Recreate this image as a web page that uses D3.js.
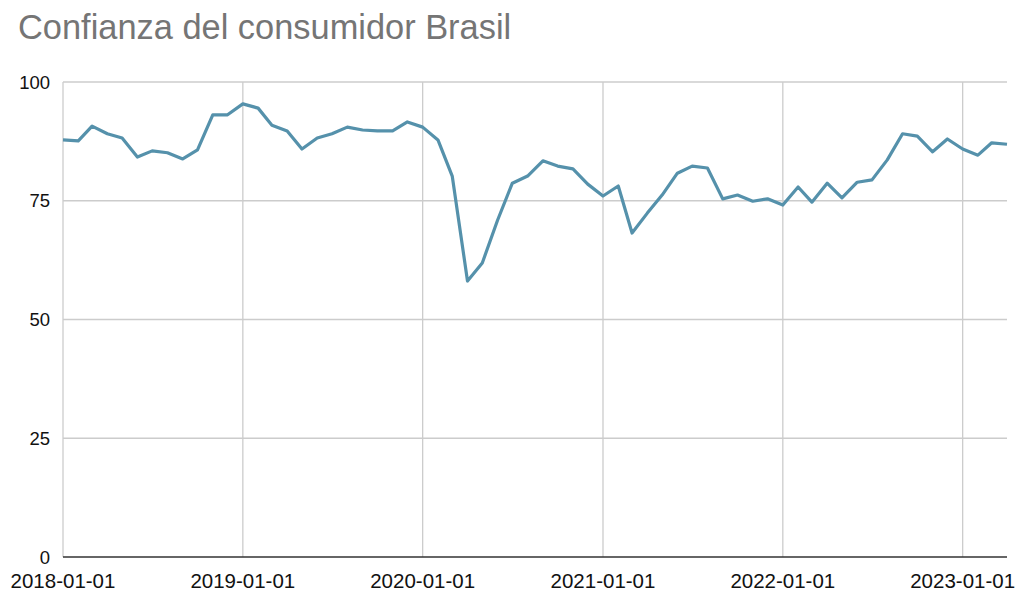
<!DOCTYPE html>
<html><head><meta charset="utf-8">
<script src="https://cdn.jsdelivr.net/npm/d3@7"></script>
<style>body{margin:0;background:#fff;}svg{display:block;}svg text{font-family:Arial,"Liberation Sans",Helvetica,sans-serif;}</style>
</head><body>
<svg id="chart" width="1018" height="592"></svg>
<script>
const title = "Confianza del consumidor Brasil";
const startMonth = "2018-01-01";
const values = [87.8,87.6,90.7,89.1,88.2,84.2,85.5,85.1,83.8,85.7,93.1,93.1,
  95.4,94.5,90.9,89.7,85.9,88.2,89.1,90.5,89.9,89.7,89.7,91.6,
  90.5,87.8,80.2,58.1,61.9,70.9,78.7,80.2,83.4,82.3,81.7,78.5,
  76.0,78.1,68.2,72.4,76.2,80.8,82.3,81.9,75.4,76.2,74.9,75.4,
  74.1,77.9,74.7,78.7,75.6,78.9,79.4,83.6,89.1,88.6,85.3,88.0,
  85.9,84.6,87.2,86.9];
const yTicks = [0,25,50,75,100];
const xTickLabels = ["2018-01-01","2019-01-01","2020-01-01","2021-01-01","2022-01-01","2023-01-01"];

const parse = d3.utcParse("%Y-%m-%d");
const start = parse(startMonth);
const data = values.map((v,i)=>({date:d3.utcMonth.offset(start,i), value:v}));

const svg = d3.select("#chart");
const m = {left:63, right:1007, top:82, bottom:557};
const x = d3.scaleUtc().domain([start, data[data.length-1].date]).range([m.left, m.right]);
const y = d3.scaleLinear().domain([0,100]).range([m.bottom, m.top]);

svg.append("text").attr("x",18).attr("y",39).attr("font-size",34.4).attr("fill","#757575").text(title);

// horizontal grid
svg.append("g").selectAll("line").data(yTicks.filter(d=>d>0)).join("line")
  .attr("x1",m.left).attr("x2",m.right).attr("y1",d=>y(d)).attr("y2",d=>y(d))
  .attr("stroke","#cccccc").attr("stroke-width",1.3);
// vertical grid
const xTicks = xTickLabels.map(parse);
svg.append("g").selectAll("line").data(xTicks).join("line")
  .attr("x1",d=>x(d)).attr("x2",d=>x(d)).attr("y1",m.top).attr("y2",m.bottom)
  .attr("stroke","#cccccc").attr("stroke-width",1.3);

// y labels
svg.append("g").selectAll("text").data(yTicks).join("text")
  .attr("x",50).attr("y",d=>y(d)+6.5).attr("text-anchor","end")
  .attr("font-size",18.5).attr("fill","#111").text(d=>d);
// x labels
svg.append("g").selectAll("text").data(xTicks).join("text")
  .attr("x",d=>x(d)).attr("y",588).attr("text-anchor","middle")
  .attr("font-size",20.5).attr("fill","#111").text((d,i)=>xTickLabels[i]);

// baseline
svg.append("line").attr("x1",m.left).attr("x2",m.right).attr("y1",y(0)).attr("y2",y(0))
  .attr("stroke","#333").attr("stroke-width",1.3);

// line
svg.append("path").datum(data)
  .attr("fill","none").attr("stroke","#5591ab").attr("stroke-width",3.2).attr("stroke-linejoin","round")
  .attr("d", d3.line().x(d=>x(d.date)).y(d=>y(d.value)));
</script>
</body></html>
